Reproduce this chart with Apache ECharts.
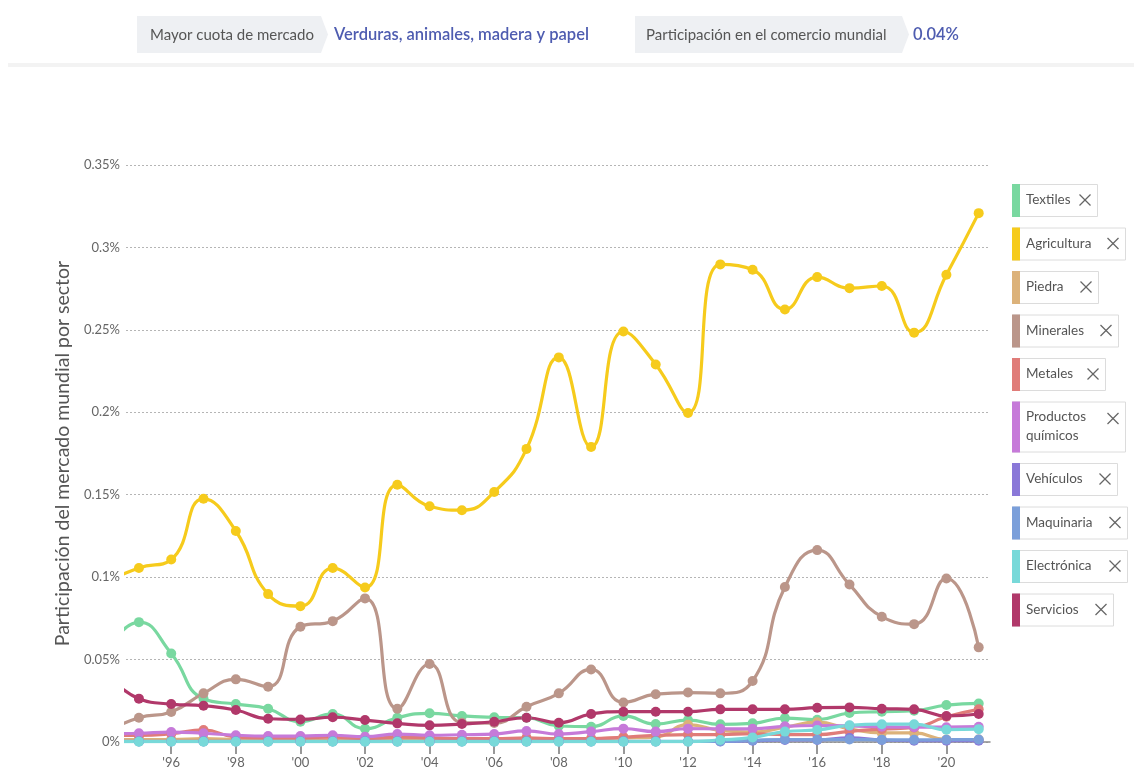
<!DOCTYPE html>
<html>
<head>
<meta charset="utf-8">
<script src="https://cdn.jsdelivr.net/npm/echarts@6/dist/echarts.min.js"></script>
<style>
html,body{margin:0;padding:0;background:#fff;}
#chart{width:1134px;height:769px;}
</style>
</head>
<body>
<div id="chart"></div>
<script>
// ---------- DATA ----------
var years = [1994,1995,1996,1997,1998,1999,2000,2001,2002,2003,2004,2005,2006,2007,2008,2009,2010,2011,2012,2013,2014,2015,2016,2017,2018,2019,2020,2021];
var xTickYears = [1996,1998,2000,2002,2004,2006,2008,2010,2012,2014,2016,2018,2020];
var yTicks = [0,0.05,0.1,0.15,0.2,0.25,0.3,0.35];

var textiles    = [0.055,0.0727,0.0537,0.0262,0.023,0.0202,0.0123,0.017,0.0081,0.0147,0.0174,0.0158,0.015,0.0147,0.0097,0.0093,0.0158,0.0109,0.0133,0.0107,0.0113,0.0145,0.0135,0.0176,0.0184,0.019,0.0224,0.0234];
var agricultura = [0.097,0.1056,0.1107,0.1475,0.128,0.0897,0.0824,0.1055,0.0937,0.156,0.143,0.1406,0.1517,0.1778,0.2333,0.179,0.249,0.229,0.1996,0.2897,0.2865,0.2624,0.282,0.2753,0.2766,0.2483,0.2834,0.3208];
var piedra      = [0.001,0.0015,0.0015,0.002,0.0015,0.001,0.001,0.001,0.001,0.0015,0.0015,0.0015,0.002,0.002,0.002,0.002,0.0025,0.003,0.0105,0.007,0.006,0.009,0.012,0.008,0.0055,0.0055,0.0015,0.0015];
var minerales   = [0.006,0.0147,0.0182,0.0295,0.038,0.0335,0.0699,0.0733,0.0871,0.0202,0.0473,0.0117,0.0115,0.0214,0.0295,0.044,0.024,0.029,0.030,0.0295,0.037,0.094,0.1164,0.0955,0.076,0.0715,0.0992,0.0574];
var metales     = [0.004,0.004,0.005,0.0073,0.003,0.0025,0.0025,0.003,0.002,0.003,0.0025,0.002,0.002,0.0025,0.002,0.002,0.003,0.004,0.0045,0.0045,0.005,0.0045,0.0045,0.0065,0.0078,0.0088,0.0153,0.0198];
var quimicos    = [0.005,0.0053,0.006,0.0053,0.0041,0.0036,0.0036,0.0041,0.0032,0.0048,0.0041,0.0044,0.0048,0.0067,0.0048,0.0063,0.0081,0.0063,0.0081,0.008,0.008,0.0095,0.01,0.0098,0.0092,0.009,0.009,0.0093];
var vehiculos   = [0.0003,0.0003,0.0003,0.0003,0.0003,0.0003,0.0003,0.0003,0.0003,0.0003,0.0003,0.0003,0.0003,0.0003,0.0003,0.0003,0.0003,0.0003,0.0003,0.0003,0.0008,0.0012,0.0012,0.0025,0.0012,0.0008,0.0008,0.0008];
var maquinaria  = [0.0004,0.0004,0.0004,0.0004,0.0004,0.0004,0.0004,0.0004,0.0004,0.0004,0.0004,0.0004,0.0004,0.0004,0.0004,0.0004,0.0004,0.0004,0.0004,0.0004,0.001,0.0015,0.0014,0.0015,0.0013,0.0013,0.0014,0.0015];
var electronica = [0.0002,0.0002,0.0002,0.0002,0.0002,0.0002,0.0002,0.0002,0.0002,0.0002,0.0002,0.0002,0.0002,0.0002,0.0002,0.0002,0.0002,0.0002,0.0002,0.0012,0.0028,0.0063,0.0073,0.0101,0.0108,0.0108,0.0075,0.0078];
var servicios   = [0.042,0.0263,0.023,0.022,0.0194,0.0141,0.0137,0.015,0.0133,0.0113,0.0101,0.0109,0.0123,0.0147,0.0117,0.017,0.0184,0.0184,0.0184,0.0198,0.0198,0.0198,0.0208,0.021,0.0202,0.0198,0.0158,0.017];

var sectorNames = ['Textiles','Agricultura','Piedra','Minerales','Metales','Productos químicos','Vehículos','Maquinaria','Electrónica','Servicios'];
var legendLabels = ['Textiles','Agricultura','Piedra','Minerales','Metales','Productos\nquímicos','Vehículos','Maquinaria','Electrónica','Servicios'];
var sectorValues = [textiles,agricultura,piedra,minerales,metales,quimicos,vehiculos,maquinaria,electronica,servicios];
var sectorColors = ['#79d8a0','#f6cb1c','#dcb27a','#bb968a','#e07c79','#c67ad9','#8a78d8','#7b9fda','#78d9d9','#b1386a'];

var headerLabel1 = 'Mayor cuota de mercado';
var headerValue1 = 'Verduras, animales, madera y papel';
var headerLabel2 = 'Participación en el comercio mundial';
var headerValue2 = '0.04%';
var yTitle = 'Participación del mercado mundial por sector';

// ---------- CHART ----------
var FONT = 'Lato, "Open Sans", sans-serif';
var chart = echarts.init(document.getElementById('chart'), null, {renderer:'canvas'});

var series = sectorNames.map(function(name, k){
  return {
    name: name,
    type: 'line',
    smooth: 0.5,
    clip: true,
    symbol: 'circle',
    symbolSize: 10,
    showSymbol: true,
    lineStyle: {width: 3.2, color: sectorColors[k]},
    itemStyle: {color: sectorColors[k]},
    emphasis: {disabled: true},
    z: k === 1 ? 5 : 2,
    data: years.map(function(y, i){ return [y, sectorValues[k][i]]; })
  };
});

// legend (drawn as graphic boxes)
var legendWidths = [85,113,86,106,93,113,105,115,115,101];
var legendGraphics = [];
var ly = 184;
legendLabels.forEach(function(lbl, k){
  var twoLines = lbl.indexOf('\n') >= 0;
  var h = twoLines ? 50 : 32;
  var w = legendWidths[k];
  var x0 = 1012;
  var cx = x0 + w - 12;
  var cy = twoLines ? ly + 17 : ly + h/2;
  legendGraphics.push(
    {type:'rect', shape:{x:x0+0.5, y:ly+0.5, width:w, height:h}, style:{fill:'#fff', stroke:'#dcdcdc', lineWidth:1}},
    {type:'rect', shape:{x:x0, y:ly, width:8, height:h+1}, style:{fill:sectorColors[k]}},
    {type:'text', x:x0+14, y:ly + h/2, style:{text:lbl, font:'13.5px ' + FONT, fill:'#555', verticalAlign:'middle', lineHeight:19}},
    {type:'line', shape:{x1:cx-5.5, y1:cy-5.5, x2:cx+5.5, y2:cy+5.5}, style:{stroke:'#666', lineWidth:1.3}},
    {type:'line', shape:{x1:cx-5.5, y1:cy+5.5, x2:cx+5.5, y2:cy-5.5}, style:{stroke:'#666', lineWidth:1.3}}
  );
  ly += h + 11.5;
});

var headerGraphics = [
  {type:'rect', shape:{x:8, y:63, width:1126, height:4}, style:{fill:'#f3f3f3'}},
  {type:'polygon', shape:{points:[[137,16],[321,16],[328,34.5],[321,53],[137,53]]}, style:{fill:'#eef0f3'}},
  {type:'text', x:150, y:35, style:{text:headerLabel1, font:'15px ' + FONT, fill:'#555', verticalAlign:'middle'}},
  {type:'text', x:334, y:35, style:{text:headerValue1, font:'600 16.5px ' + FONT, fill:'#4e5cb0', verticalAlign:'middle'}},
  {type:'polygon', shape:{points:[[635,16],[902,16],[909,34.5],[902,53],[635,53]]}, style:{fill:'#eef0f3'}},
  {type:'text', x:646, y:35, style:{text:headerLabel2, font:'15px ' + FONT, fill:'#555', verticalAlign:'middle'}},
  {type:'text', x:913, y:35, style:{text:headerValue2, font:'600 16.5px ' + FONT, fill:'#4e5cb0', verticalAlign:'middle'}}
];

var option = {
  animation: false,
  backgroundColor: '#fff',
  textStyle: {fontFamily: FONT},
  grid: {left: 126, right: 144, top: 165, bottom: 27, containLabel: false},
  xAxis: {
    type: 'value',
    min: 1994.6,
    max: 2021.35,
    splitLine: {show: false},
    axisLine: {show: true, onZero: false, lineStyle: {color: '#8a8a8a', width: 1.5}},
    axisTick: {show: true, customValues: xTickYears, length: 12, lineStyle: {color: '#777', width: 1.5}},
    axisLabel: {
      customValues: xTickYears,
      margin: 14,
      fontSize: 13,
      color: '#666',
      fontFamily: FONT,
      formatter: function(v){ return "'" + String(Math.round(v)).slice(2); }
    }
  },
  yAxis: {
    type: 'value',
    min: 0,
    max: 0.35,
    interval: 0.05,
    name: yTitle,
    nameLocation: 'middle',
    nameGap: 52,
    nameTextStyle: {fontSize: 19.5, color: '#555', fontFamily: FONT},
    axisLine: {show: false},
    axisTick: {show: false},
    axisLabel: {
      fontSize: 13, color: '#666', margin: 6, fontFamily: FONT,
      formatter: function(v){ return Number(v.toFixed(2)) + '%'; }
    },
    splitLine: {show: true, lineStyle: {color: '#b5b5b5', type: [2, 2], width: 1}}
  },
  graphic: headerGraphics.concat(legendGraphics),
  series: series
};
chart.setOption(option);
</script>
</body>
</html>
